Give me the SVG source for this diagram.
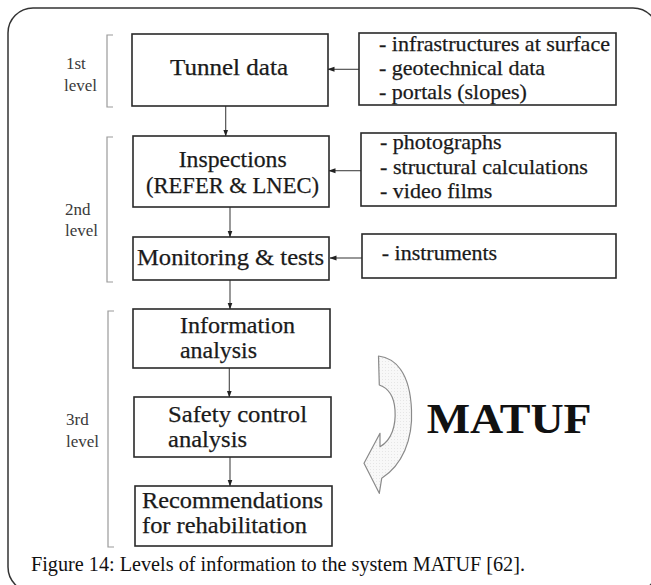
<svg xmlns="http://www.w3.org/2000/svg" width="651" height="585" viewBox="0 0 651 585">
<defs>
<marker id="ah" markerWidth="7" markerHeight="6" refX="6.5" refY="3" orient="auto" markerUnits="userSpaceOnUse">
<path d="M0,0.5 L7,3 L0,5.5 Z" fill="#222"/>
</marker>
<pattern id="dots" width="3" height="3" patternUnits="userSpaceOnUse">
<rect width="3" height="3" fill="#f8f8f8"/>
<rect x="1" y="1" width="1" height="1" fill="#e6e6e6"/>
</pattern>
</defs>
<style>
.box{fill:#fff;stroke:#2a2a2a;stroke-width:1.6}
.t{font-family:"Liberation Serif","Times New Roman",serif;font-size:23px;fill:#1a1a1a;stroke:#1a1a1a;stroke-width:0.25}
.r{font-family:"Liberation Serif","Times New Roman",serif;font-size:22px;fill:#1a1a1a;stroke:#1a1a1a;stroke-width:0.25}
.lv{font-family:"Liberation Serif","Times New Roman",serif;font-size:17px;fill:#3a3a3a}
.br{fill:none;stroke:#9a9a9a;stroke-width:1.2}
.c{fill:none;stroke:#444;stroke-width:1.1}
.cap{font-family:"Liberation Serif","Times New Roman",serif;font-size:20px;fill:#111}
</style>
<rect x="8" y="8" width="650" height="584" rx="25" ry="25" fill="none" stroke="#333" stroke-width="1.5"/>

<g id="brackets">
<path class="br" d="M113,35 H107 V107 H113"/>
<path class="br" d="M113,137 H107 V282 H113"/>
<path class="br" d="M114,311 H108 V547 H114"/>
</g>
<g id="levels">
<text class="lv" x="66" y="69">1st</text>
<text class="lv" x="64" y="91">level</text>
<text class="lv" x="65" y="215">2nd</text>
<text class="lv" x="65" y="236">level</text>
<text class="lv" x="66" y="425">3rd</text>
<text class="lv" x="66" y="447">level</text>
</g>

<g id="connectors">
<line class="c" x1="225.7" y1="106" x2="225.7" y2="136" marker-end="url(#ah)"/>
<line class="c" x1="230" y1="207" x2="230" y2="237" marker-end="url(#ah)"/>
<line class="c" x1="230" y1="280" x2="230" y2="309" marker-end="url(#ah)"/>
<line class="c" x1="229.3" y1="368" x2="229.3" y2="397" marker-end="url(#ah)"/>
<line class="c" x1="230" y1="457" x2="230" y2="486" marker-end="url(#ah)"/>
<line class="c" x1="359" y1="69.3" x2="328" y2="69.3" marker-end="url(#ah)"/>
<line class="c" x1="361" y1="170.7" x2="329" y2="170.7" marker-end="url(#ah)"/>
<line class="c" x1="362" y1="258" x2="330" y2="258" marker-end="url(#ah)"/>
</g>

<g id="tunnel">
<rect class="box" x="132" y="34" width="196" height="72"/>
<text class="t" x="229" y="75" text-anchor="middle" textLength="118" lengthAdjust="spacingAndGlyphs">Tunnel data</text>
</g>
<g id="inspections">
<rect class="box" x="133" y="136" width="196" height="71"/>
<text class="t" x="232.7" y="166.7" text-anchor="middle" textLength="108" lengthAdjust="spacingAndGlyphs">Inspections</text>
<text class="t" x="232.5" y="192.7" text-anchor="middle" textLength="173" lengthAdjust="spacingAndGlyphs">(REFER &amp; LNEC)</text>
</g>
<g id="monitoring">
<rect class="box" x="133" y="237" width="196" height="43"/>
<text class="t" x="230.5" y="265" text-anchor="middle" textLength="187" lengthAdjust="spacingAndGlyphs">Monitoring &amp; tests</text>
</g>
<g id="information">
<rect class="box" x="133" y="309" width="197" height="59"/>
<text class="t" x="180" y="333" textLength="115" lengthAdjust="spacingAndGlyphs">Information</text>
<text class="t" x="180" y="358" textLength="77" lengthAdjust="spacingAndGlyphs">analysis</text>
</g>
<g id="safety">
<rect class="box" x="134" y="397" width="197" height="60"/>
<text class="t" x="168" y="421.7" textLength="139" lengthAdjust="spacingAndGlyphs">Safety control</text>
<text class="t" x="168" y="446.7" textLength="79" lengthAdjust="spacingAndGlyphs">analysis</text>
</g>
<g id="recommendations">
<rect class="box" x="135" y="486" width="197" height="60"/>
<text class="t" x="142" y="508.3" textLength="181" lengthAdjust="spacingAndGlyphs">Recommendations</text>
<text class="t" x="142" y="533" textLength="165" lengthAdjust="spacingAndGlyphs">for rehabilitation</text>
</g>

<g id="sources1">
<rect class="box" x="359" y="33" width="257" height="72"/>
<text class="r" x="379" y="50.7" textLength="231" lengthAdjust="spacingAndGlyphs">- infrastructures at surface</text>
<text class="r" x="379" y="75">- geotechnical data</text>
<text class="r" x="379" y="99">- portals (slopes)</text>
</g>
<g id="sources2">
<rect class="box" x="361" y="133" width="255" height="73"/>
<text class="r" x="380" y="149">- photographs</text>
<text class="r" x="380" y="174" textLength="208" lengthAdjust="spacingAndGlyphs">- structural calculations</text>
<text class="r" x="380" y="198">- video films</text>
</g>
<g id="sources3">
<rect class="box" x="362" y="234" width="254" height="44"/>
<text class="r" x="381.7" y="260">- instruments</text>
</g>

<g id="matuf">
<path d="M378.5,356 C395,358 410,372 411.5,410 C413,440 402,465 381.7,478.3 L379.3,493.3 L364,463.3 L380,433.3 L380,446.7 C392,440 396,425 395,410 C394,395 388,388 379.3,385 Z" fill="url(#dots)" stroke="#8a8a8a" stroke-width="1.2" stroke-linejoin="round"/>
<text x="426.7" y="432.7" font-family="'Liberation Serif','Times New Roman',serif" font-weight="bold" font-size="42" fill="#111" textLength="165" lengthAdjust="spacingAndGlyphs">MATUF</text>
</g>

<text class="cap" x="31" y="571" textLength="494" lengthAdjust="spacingAndGlyphs">Figure 14: Levels of information to the system MATUF [62].</text>
</svg>
